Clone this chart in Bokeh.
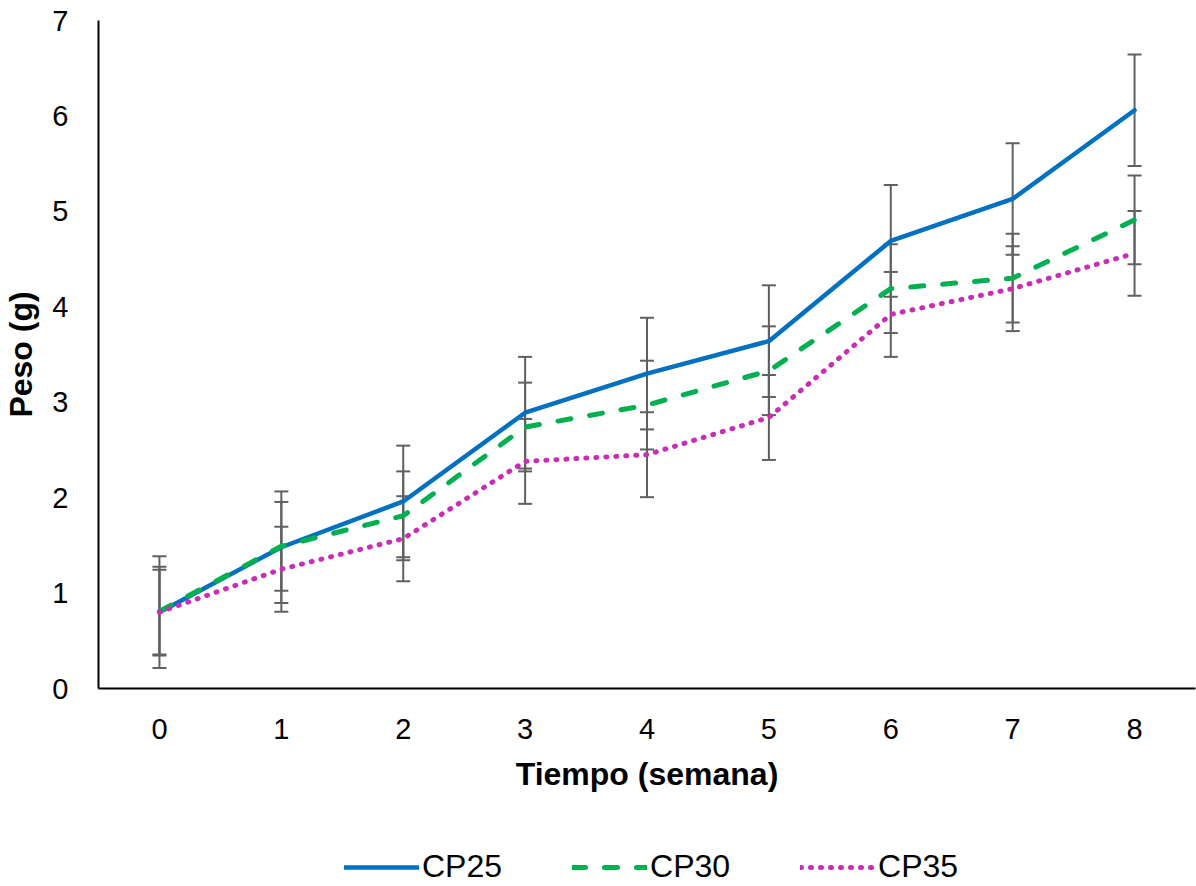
from bokeh.plotting import figure
from bokeh.layouts import column
from bokeh.models import Range1d, Legend, LegendItem, Whisker, ColumnDataSource, TeeHead, FixedTicker
from bokeh.embed import file_html
from bokeh.resources import INLINE

# Weekly weight (g) for each diet, with standard deviation
semanas = [0, 1, 2, 3, 4, 5, 6, 7, 8]
cp25 = [0.80, 1.48, 1.96, 2.89, 3.30, 3.64, 4.69, 5.13, 6.06]
cp30 = [0.81, 1.49, 1.81, 2.74, 2.97, 3.33, 4.19, 4.30, 4.91]
cp35 = [0.80, 1.25, 1.57, 2.38, 2.45, 2.84, 3.92, 4.19, 4.56]
de25 = [0.585] * 9
de30 = [0.465] * 9
de35 = [0.445] * 9

series = [
    ("CP25", cp25, de25, "#0070C0", "solid", 4.5),
    ("CP30", cp30, de30, "#00B050", "13 19", 5),
    ("CP35", cp35, de35, "#C92CB5", "1 9", 5),
]

FONT = "Liberation Sans"

p = figure(width=1196, height=820, output_backend="svg", toolbar_location=None,
           x_range=Range1d(-0.5, 8.5), y_range=Range1d(0, 7),
           min_border_left=97, min_border_right=1, min_border_top=20,
           min_border_bottom=132)
p.outline_line_color = None
p.xgrid.grid_line_color = None
p.ygrid.grid_line_color = None
p.background_fill_color = "white"
p.border_fill_color = "white"

# error bars under the lines
for name, vals, err, color, dash, lw in series:
    src = ColumnDataSource(dict(x=semanas,
                                lo=[v - e for v, e in zip(vals, err)],
                                hi=[v + e for v, e in zip(vals, err)]))
    w = Whisker(source=src, base="x", lower="lo", upper="hi", level="underlay",
                line_color="#606060", line_width=2,
                upper_head=TeeHead(size=14, line_color="#606060", line_width=2),
                lower_head=TeeHead(size=14, line_color="#606060", line_width=2))
    p.add_layout(w)

for name, vals, err, color, dash, lw in series:
    p.line(semanas, vals, line_color=color, line_width=lw, line_dash=dash,
           line_cap="round", line_join="round")

for ax in (p.xaxis[0], p.yaxis[0]):
    ax.axis_line_color = "black"
    ax.axis_line_width = 2
    ax.major_tick_line_color = None
    ax.minor_tick_line_color = None
    ax.major_label_text_font = FONT
    ax.major_label_text_font_size = "29px"
    ax.major_label_text_color = "black"
    ax.axis_label_text_font = FONT
    ax.axis_label_text_font_style = "bold"
    ax.axis_label_text_font_size = "32px"
    ax.axis_label_text_color = "black"

p.xaxis.ticker = FixedTicker(ticks=semanas)
p.yaxis.ticker = FixedTicker(ticks=list(range(0, 8)))
p.xaxis.axis_label = "Tiempo (semana)"
p.yaxis.axis_label = "Peso (g)"
p.xaxis.major_label_standoff = 24
p.yaxis.major_label_standoff = 24
p.xaxis.axis_label_standoff = 14
p.yaxis.axis_label_standoff = 10

# legend strip underneath the chart; its lines sit outside the visible range
lf = figure(width=1196, height=66, output_backend="svg", toolbar_location=None,
            x_range=Range1d(0, 1), y_range=Range1d(0, 1),
            min_border=0, min_border_left=0, min_border_right=0,
            min_border_top=0, min_border_bottom=0)
lf.axis.visible = False
lf.grid.visible = False
lf.outline_line_color = None
lf.border_fill_color = "white"
lf.background_fill_color = "white"

items = []
for name, vals, err, color, dash, lw in series:
    r = lf.line([-10, -9], [-10, -9], line_color=color, line_width=lw,
                line_dash=dash, line_cap="round", line_join="round")
    items.append(LegendItem(label=name, renderers=[r]))

legend = Legend(items=items, orientation="horizontal", location=(246, 1),
                label_text_font=FONT, label_text_font_size="32px",
                label_text_color="black", glyph_width=75, glyph_height=24,
                label_standoff=3, spacing=70, border_line_color=None,
                background_fill_alpha=0, margin=0, padding=0)
lf.add_layout(legend, "center")

page = column(p, lf, spacing=0)
open("out.html", "w").write(file_html(page, INLINE))
